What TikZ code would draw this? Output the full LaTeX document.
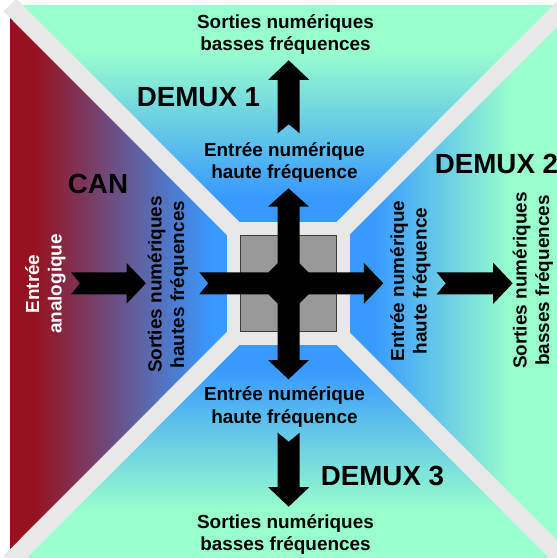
\documentclass[tikz,border=0pt]{standalone}
\usepackage{fontspec}
\setmainfont{Liberation Sans}
\definecolor{CanRed}{RGB}{150,18,32}
\definecolor{CoreBlue}{RGB}{56,153,255}
\definecolor{DemuxMint}{RGB}{153,255,204}
\definecolor{BandGray}{RGB}{232,232,232}
\definecolor{CoreGray}{RGB}{153,153,153}
\definecolor{CoreEdge}{RGB}{60,60,60}
\tikzset{
  bande/.style={line width=13.5pt, draw=BandGray},
  etiquette/.style={font=\bfseries\fontsize{14.2}{16.9}\selectfont, align=center, inner sep=0pt},
  titre/.style={font=\bfseries\fontsize{20.8}{24}\selectfont, inner sep=0pt, anchor=base},
  fleche/.pic={
    \fill (0,-11) -- (#1-19.5,-11) -- (#1-19.5,-20.5) -- (#1,0) -- (#1-19.5,20.5)
          -- (#1-19.5,11) -- (0,11) -- (9,0) -- cycle;
  },
}

\begin{document}
\begin{tikzpicture}[x=0.75pt, y=-0.75pt]
  \clip (0,0) rectangle (557,558);
  \fill[white] (0,0) rectangle (557,558);

  % Fonds des quatre zones
  \begin{scope}
    \clip (10,5) -- (10,562) -- (288.5,283.5) -- cycle;
    \fill[CanRed] (10,5) rectangle (35.5,562);
    \shade[left color=CanRed, right color=CoreBlue] (35,5) rectangle (212,562);
    \fill[CoreBlue] (211.5,5) rectangle (290,562);
  \end{scope}
  \begin{scope}
    \clip (10,5) -- (566,5) -- (288.5,283.5) -- cycle;
    \fill[DemuxMint] (10,5) rectangle (566,50.5);
    \shade[top color=DemuxMint, bottom color=CoreBlue] (10,50) rectangle (566,198);
    \fill[CoreBlue] (10,197.5) rectangle (566,285);
  \end{scope}
  \begin{scope}
    \clip (566,5) -- (566,562) -- (288.5,283.5) -- cycle;
    \fill[CoreBlue] (287,5) rectangle (372.5,562);
    \shade[left color=CoreBlue, right color=DemuxMint] (372,5) rectangle (512,562);
    \fill[DemuxMint] (511.5,5) rectangle (566,562);
  \end{scope}
  \begin{scope}
    \clip (10,562) -- (566,562) -- (288.5,283.5) -- cycle;
    \fill[CoreBlue] (10,282) rectangle (566,368.5);
    \shade[top color=CoreBlue, bottom color=DemuxMint] (10,368) rectangle (566,512);
    \fill[DemuxMint] (10,511.5) rectangle (566,562);
  \end{scope}

  % Bandes et bloc central
  \draw[bande] (10,5) -- (566,562);
  \draw[bande] (566,5) -- (10,562);
  \fill[BandGray] (227,222) rectangle (350,345);
  \draw[CoreEdge, fill=CoreGray, line width=0.6pt] (240.5,235.5) rectangle (336.5,331.5);

  % Fleches
  \pic at (71,283.3) {fleche=75};
  \pic at (199.3,283.3) {fleche=184};
  \pic at (436.7,283.3) {fleche=76};
  \pic[rotate=90] at (288.7,133.3) {fleche=73};
  \pic[rotate=-90] at (288.7,432.7) {fleche=74};
  \fill (277.5,206.7) -- (268,206.7) -- (288.5,188.3) -- (309,206.7) -- (299.5,206.7)
     -- (299.5,360) -- (309,360) -- (288.5,379.3) -- (268,360) -- (277.5,360) -- cycle;
  \fill (277.5,263.3) -- (299.5,263.3) -- (308.5,272.3) -- (308.5,294.3)
     -- (299.5,303.3) -- (277.5,303.3) -- (268.5,294.3) -- (268.5,272.3) -- cycle;

  % Textes
  \node[etiquette] (sortieHaut) at (285.5,34.5) {Sorties numériques\\basses fréquences};
  \node[etiquette] (entreeHaut) at (284.5,162.5) {Entrée numérique\\haute fréquence};
  \node[etiquette] (entreeBas) at (284.5,407) {Entrée numérique\\haute fréquence};
  \node[etiquette] (sortieBas) at (285.5,534.5) {Sorties numériques\\basses fréquences};
  \node[etiquette, rotate=90, text=white] (entreeAna) at (45.5,284) {Entrée\\analogique};
  \node[etiquette, rotate=90] (sortieCan) at (168,284.5) {Sorties numériques\\hautes fréquences};
  \node[etiquette, rotate=90] (entreeDroite) at (410.5,281) {Entrée numérique\\haute fréquence};
  \node[etiquette, rotate=90] (sortieDroite) at (533,280.5) {Sorties numériques\\basses fréquences};
  \node[titre] (demuxUn) at (198.5,106) {DEMUX 1};
  \node[titre] (demuxDeux) at (496.5,173) {DEMUX 2};
  \node[titre] (demuxTrois) at (382.5,485) {DEMUX 3};
  \node[titre] (can) at (98,193) {CAN};
\end{tikzpicture}
\end{document}
